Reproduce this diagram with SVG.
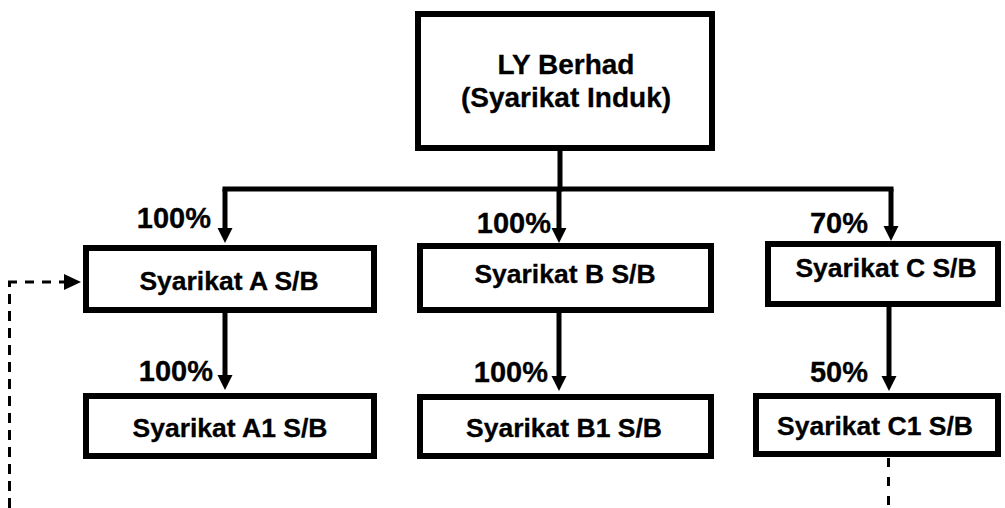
<svg xmlns="http://www.w3.org/2000/svg" width="1005" height="508" viewBox="0 0 1005 508">
  <style>
    .box { fill: #ffffff; stroke: #000000; stroke-width: 6; }
    .t { font-family: "Liberation Sans", Arial, sans-serif; font-weight: bold; fill: #000000; text-anchor: middle; stroke: #000000; stroke-width: 0.3; }
    .main { font-size: 28px; }
    .name { font-size: 26.5px; }
    .pct { font-family: "Liberation Sans", Arial, sans-serif; font-weight: bold; fill: #000000; font-size: 29px; text-anchor: end; stroke: #000000; stroke-width: 0.3; }
    .conn { fill: none; stroke: #000000; stroke-width: 5; }
    .dash { fill: none; stroke: #000000; stroke-width: 3; }
    .head { fill: #000000; }
  </style>
  <defs>
    <marker id="ah" markerUnits="userSpaceOnUse" markerWidth="16" markerHeight="16" refX="5" refY="7.5" orient="auto">
      <path d="M0,0 L15,7.5 L0,15 Z" fill="#000000"/>
    </marker>
  </defs>
  <rect width="1005" height="508" fill="#ffffff"/>

  <g id="connectors">
    <line class="conn" x1="560" y1="150" x2="560" y2="191.5"/>
    <line class="conn" x1="222.5" y1="189" x2="893.5" y2="189"/>
    <path class="conn" d="M225,189 V233" marker-end="url(#ah)"/>
    <path class="conn" d="M559,189 V233" marker-end="url(#ah)"/>
    <path class="conn" d="M891,189 V231" marker-end="url(#ah)"/>
    <path class="conn" d="M225,312 V380" marker-end="url(#ah)"/>
    <path class="conn" d="M559,312 V381" marker-end="url(#ah)"/>
    <path class="conn" d="M889,306 V381" marker-end="url(#ah)"/>
    <path class="dash" d="M888.5,458 V508" stroke-dasharray="9 10"/>
    <path class="dash" d="M9.5,508 V282" stroke-dasharray="10 7"/>
    <path class="dash" d="M8,282 H64" stroke-dasharray="9 8"/>
    <polygon class="head" points="64,274 81,282 64,290"/>
  </g>

  <g id="ly-berhad">
    <rect class="box" x="418" y="14" width="294" height="134"/>
    <text class="t main" x="566" y="74">LY Berhad</text>
    <text class="t main" x="566" y="107">(Syarikat Induk)</text>
  </g>

  <g id="syarikat-a">
    <rect class="box" x="86" y="248" width="288" height="62"/>
    <text class="t name" x="229" y="290">Syarikat A S/B</text>
  </g>
  <g id="syarikat-b">
    <rect class="box" x="420" y="246" width="291" height="64"/>
    <text class="t name" x="565" y="283">Syarikat B S/B</text>
  </g>
  <g id="syarikat-c">
    <rect class="box" x="768" y="244" width="230" height="60"/>
    <text class="t name" x="886" y="277">Syarikat C S/B</text>
  </g>
  <g id="syarikat-a1">
    <rect class="box" x="86" y="396" width="288" height="60"/>
    <text class="t name" x="230" y="437">Syarikat A1 S/B</text>
  </g>
  <g id="syarikat-b1">
    <rect class="box" x="420" y="397" width="291" height="59"/>
    <text class="t name" x="564" y="437">Syarikat B1 S/B</text>
  </g>
  <g id="syarikat-c1">
    <rect class="box" x="756" y="396" width="242" height="58"/>
    <text class="t name" x="875" y="435">Syarikat C1 S/B</text>
  </g>

  <g id="labels">
    <text class="pct" x="211" y="228">100%</text>
    <text class="pct" x="551" y="233">100%</text>
    <text class="pct" x="868" y="233">70%</text>
    <text class="pct" x="213" y="381">100%</text>
    <text class="pct" x="548" y="382">100%</text>
    <text class="pct" x="868" y="382">50%</text>
  </g>
</svg>
